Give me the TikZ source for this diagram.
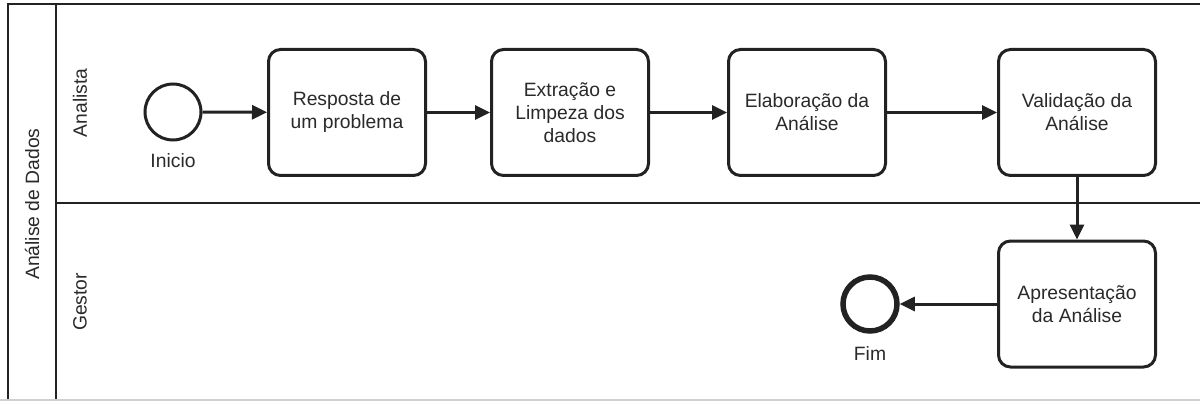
\documentclass[tikz,border=0pt]{standalone}
\usepackage{fontspec}
\setmainfont{Liberation Sans}
\usetikzlibrary{arrows.meta}
\definecolor{linec}{HTML}{222222}
\definecolor{textc}{HTML}{2A2A2A}
\definecolor{edgec}{HTML}{D0D0D0}
\begin{document}
\begin{tikzpicture}[x=1pt,y=-1pt,
  lbl/.style={font=\fontsize{19.3}{23}\selectfont, text=textc, align=center, inner sep=0pt},
  task/.style={lbl, draw=linec, line width=3pt, rounded corners=12pt, minimum width=157pt, minimum height=126pt},
  startev/.style={circle, draw=linec, line width=3pt, minimum size=56pt, inner sep=0pt},
  endev/.style={circle, draw=linec, line width=5.5pt, minimum size=54pt, inner sep=0pt},
  flow/.style={draw=linec, line width=3pt, -{Triangle[length=15pt,width=14pt]}},
  pool/.style={draw=linec, line width=2.6pt},
  lanetext/.style={lbl, rotate=90}]
\useasboundingbox (0,0) rectangle (1200,401);
\fill[white] (0,0) rectangle (1200,401);
% pool and lanes
\draw[pool] (1200,4) -- (8,4) -- (8,401);
\draw[pool] (56,4) -- (56,401);
\draw[pool] (56,203) -- (1200,203);
\draw[edgec, line width=1.5pt] (0,400) -- (1200,400);
\node[lanetext] (pooltitle) at (32,204) {Análise de Dados};
\node[lanetext] (lane1) at (80,103) {Analista};
\node[lanetext] (lane2) at (80,302) {Gestor};
% events
\node[startev] (start) at (173,112) {};
\node[lbl] (startlbl) at (173,161) {Inicio};
\node[endev] (end) at (870,304) {};
\node[lbl] (endlbl) at (870,354) {Fim};
% tasks
\node[task] (t1) at (347,112.5) {Resposta de\\um problema};
\node[task] (t2) at (570,112.5) {Extração e\\Limpeza dos\\dados};
\node[task] (t3) at (807,112.5) {Elaboração da\\Análise};
\node[task] (t4) at (1077,112.5) {Validação da\\Análise};
\node[task] (t5) at (1077,304) {Apresentação\\da Análise};
% flows
\draw[flow] (start) -- (t1);
\draw[flow] (t1) -- (t2);
\draw[flow] (t2) -- (t3);
\draw[flow] (t3) -- (t4);
\draw[flow] (t4) -- (t5);
\draw[flow] (t5) -- (end);
\end{tikzpicture}
\end{document}
